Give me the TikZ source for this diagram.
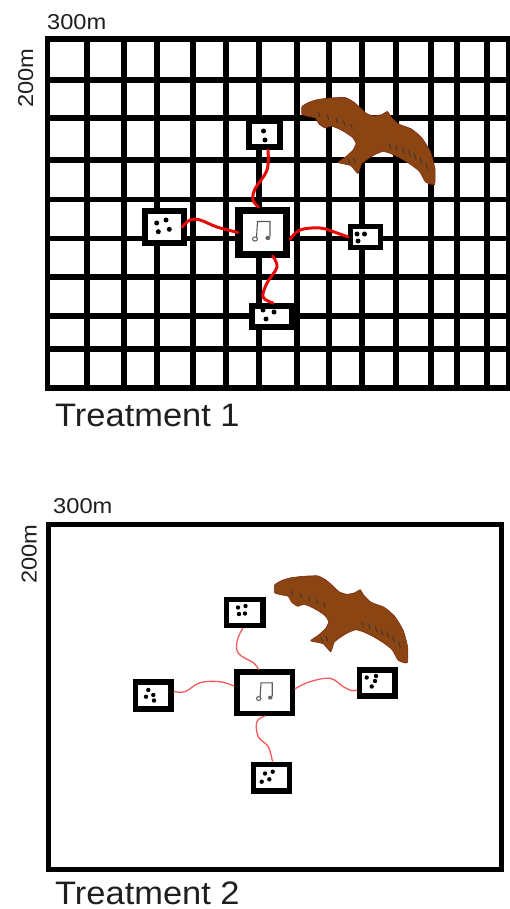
\documentclass[tikz,border=0pt]{standalone}
\usepackage{fontspec}
\newfontfamily\smallfont[FakeStretch=1.1]{Liberation Sans}
\newfontfamily\bigfont[FakeStretch=1.06]{Liberation Sans}
\definecolor{kite}{RGB}{139,69,19}
\definecolor{kiteedge}{RGB}{125,45,20}
\definecolor{wire}{RGB}{230,10,10}
\definecolor{thinwire}{RGB}{245,90,90}
\tikzset{
  gridline/.style={line width=5.5pt, black},
  frame/.style={line width=5.5pt, black, line join=miter},
  dev/.style={draw=black, fill=white, inner sep=0pt, line join=miter},
  wireA/.style={wire, line width=3pt, line cap=round},
  wireB/.style={thinwire, line width=1.3pt, line cap=round},
  dimlabel/.style={inner sep=0pt, text=black!88, font=\smallfont\fontsize{21.5}{24}\selectfont},
  treatlabel/.style={inner sep=0pt, text depth=0pt, text=black!88, font=\bigfont\fontsize{32.5}{36}\selectfont},
  note/.pic={
    \draw[black!65, line width=1.1pt] (-6,5) -- (-5,-11) -- (7.5,-11) -- (7.5,4);
    \draw[black!65, line width=1pt] (-7.5,6.5) ellipse [x radius=2.5, y radius=2.1];
    \fill[black!60] (5.3,5.5) ellipse [x radius=2.5, y radius=2.2];
  },
  bird/.pic={
    \filldraw[fill=kite, draw=kiteedge, line width=0.6pt]
      plot[smooth cycle, tension=0.3] coordinates {
        (302,106.5) (309.5,102) (318,99.5) (330,98) (345,97.5)
        (353,101.5) (360,107.5) (366.5,113.5) (374,116) (382,114.5)
        (387.5,111.5) (391.5,117.5) (398.5,124) (411.5,129) (422,138)
        (430.5,152) (435,169) (434.5,184.5) (425.5,182) (419.5,171.5)
        (410,164) (400,158) (390.5,153.5) (383,151.5) (375,154.5)
        (367,159.5) (361.5,164) (358,173.5) (350.5,165.5) (338,162.5)
        (345.5,157) (353,150) (356,143.5) (352.5,137.5) (345.5,132.5)
        (338,128.5) (331,126) (325,128) (319,124) (315.5,118)
        (308.5,116.5) (302,114.5)};
    \begin{scope}[black!80, line width=0.8pt, line cap=round]
      \draw (318.3,112.7) -- (320,116.7);
      \draw (327.3,115) -- (328.7,119.7);
      \draw (336,118.3) -- (337.3,123);
      \draw (343.3,121) -- (345,125.3);
      \draw (351,124.3) -- (352.3,128.7);
      \draw (389.3,144.3) -- (390.7,148.3);
      \draw (396,146) -- (397,150.7);
      \draw (402.7,148.3) -- (404.3,153.7);
      \draw (408.7,151) -- (410.3,156.7);
      \draw (414.3,153.7) -- (416,159.7);
      \draw (420,157.7) -- (421.7,163.7);
      \draw (426,163) -- (427.5,169);
      \draw (348.3,159.3) -- (350,163.7);
      \draw (353.3,157.7) -- (355,162.7);
    \end{scope}
  }
}
\begin{document}
\begin{tikzpicture}[x=1pt, y=-1pt]
\useasboundingbox (0,0) rectangle (509,909);

% ---------- Treatment 1: gridded field ----------
\foreach \gx in {87,124,157,193,226,259,297,329,362,396,431,457,487}
  \draw[gridline] (\gx,39) -- (\gx,388);
\foreach \gy in {80,118,160,199.5,238.5,277,316,349}
  \draw[gridline] (47.5,\gy) -- (508.5,\gy);
\draw[frame] (47.5,39) rectangle (508.5,388);

\node[dimlabel, anchor=base west] (t1w) at (47,29.3) {300m};
\node[dimlabel, anchor=base, rotate=90] (t1h) at (33,78) {200m};
\node[treatlabel, anchor=base west] (t1name) at (55,426) {Treatment 1};

\node[dev, line width=6pt, minimum width=31pt, minimum height=26pt] (t1top) at (264.5,134) {};
\node[dev, line width=6pt, minimum width=39pt, minimum height=32pt] (t1left) at (164.5,227) {};
\node[dev, line width=7.5pt, minimum width=47.5pt, minimum height=43.5pt] (t1mid) at (262.5,232.5) {};
\node[dev, line width=5pt, minimum width=30pt, minimum height=21pt] (t1right) at (365.5,237) {};
\node[dev, line width=6pt, minimum width=40pt, minimum height=21pt] (t1bot) at (272,316.5) {};

\pic at (t1mid.center) {note};

\foreach \p in {(263.5,131),(265,140),
                (156.7,223),(166,220),(158.3,231.7),(169.3,229.3),
                (357,234),(364.5,234),(358,241),
                (263,310),(266,319),(274,312)}
  \fill \p circle (2.5);

\draw[wireA] plot[smooth, tension=0.6] coordinates
  {([xshift=3.5pt]t1top.south) (267,170) (255,189) (253,200) ([xshift=-4pt]t1mid.north)};
\draw[wireA] plot[smooth, tension=0.6] coordinates
  {([xshift=3pt]t1mid.west) (217,227) (200,220) (190,220) ([xshift=-5pt]t1left.east)};
\draw[wireA] plot[smooth, tension=0.6] coordinates
  {([yshift=-7pt]t1mid.east) (300,230) (320,228) (337,233) (t1right.west)};
\draw[wireA] plot[smooth, tension=0.6] coordinates
  {([xshift=10pt,yshift=2pt]t1mid.south) (277,267) (267,283) (263,297) ([xshift=1pt]t1bot.north)};

\pic at (0,0) {bird};

% ---------- Treatment 2: open field ----------
\draw[frame, line width=5pt] (48,524) rectangle (501.7,869.5);

\node[dimlabel, anchor=base west] (t2w) at (53,513) {300m};
\node[dimlabel, anchor=base, rotate=90] (t2h) at (36.5,554) {200m};
\node[treatlabel, anchor=base west] (t2name) at (55,904) {Treatment 2};

\node[dev, line width=5.5pt, minimum width=36.2pt, minimum height=26.1pt] (t2top) at (244.8,612.5) {};
\node[dev, line width=5.5pt, minimum width=55.5pt, minimum height=41.2pt] (t2mid) at (264.5,692.7) {};
\node[dev, line width=5.5pt, minimum width=35.8pt, minimum height=26.9pt] (t2left) at (153.3,695.5) {};
\node[dev, line width=5.5pt, minimum width=35.5pt, minimum height=25.9pt] (t2right) at (377.2,683) {};
\node[dev, line width=5.5pt, minimum width=36.1pt, minimum height=26.8pt] (t2bot) at (271.5,777.8) {};

\pic[scale=0.9] at ([xshift=1pt]t2mid.center) {note};

\foreach \p in {(238,607.5),(245.5,606),(239,614),(245,613.5),
                (148.3,690),(146,696.7),(153.3,695),(154,700.5),
                (366.7,677.5),(376,676),(375,681),(371.7,686.5),
                (265,773.5),(272.7,771.7),(261.7,781.7),(269.3,779.3)}
  \fill \p circle (2.2);

\draw[wireB] plot[smooth, tension=0.6] coordinates
  {([xshift=-2pt]t2top.south) (237.3,640) (238.3,653.3) (253.3,662.7) ([xshift=-6pt]t2mid.north)};
\draw[wireB] plot[smooth, tension=0.6] coordinates
  {([yshift=4pt]t2left.east) (185,691.7) (200,682.7) (220,681.7) ([yshift=6.7pt]t2mid.west)};
\draw[wireB] plot[smooth, tension=0.6] coordinates
  {([yshift=4pt]t2mid.east) (310,681.7) (330,678.3) (343.3,686.7) (351.7,690.7) ([yshift=-7pt]t2right.west)};
\draw[wireB] plot[smooth, tension=0.6] coordinates
  {(t2mid.south) (256.7,722) (258.3,736.7) (268.3,746.7) ([xshift=1pt]t2bot.north)};

\pic at (-27.3,478.3) {bird};
\end{tikzpicture}
\end{document}
